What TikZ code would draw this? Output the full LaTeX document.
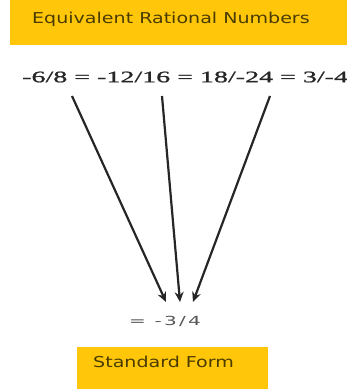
\documentclass[tikz,border=0pt]{standalone}
\usepackage{fontspec}
\newfontfamily\eqfont[FakeStretch=1.75, FakeBold=1.2]{Liberation Serif}
\newfontfamily\labfont[FakeStretch=1.27]{DejaVu Sans}
\newfontfamily\resfont[FakeStretch=1.6, LetterSpace=18]{DejaVu Sans}
\usetikzlibrary{arrows.meta}
\definecolor{gold}{HTML}{FFC60A}
\definecolor{labtext}{HTML}{4A3C00}
\definecolor{restext}{HTML}{555555}
\tikzset{
  banner/.style={fill=gold, draw=none, inner sep=0pt, anchor=north west},
  bannertext/.style={anchor=west, inner sep=0pt, text=labtext, font=\labfont\fontsize{15}{17}\selectfont},
  eqtext/.style={anchor=west, inner sep=0pt, text=black!85, font=\eqfont\fontsize{16}{18}\selectfont},
  restyle/.style={inner sep=0pt, text=restext, font=\resfont\fontsize{12.5}{14}\selectfont},
  conn/.style={line width=2.2pt, draw=black!85, -{Stealth[length=10pt,width=9pt]}}
}
\begin{document}
\begin{tikzpicture}[x=1pt,y=-1pt]
\useasboundingbox (0,0) rectangle (347,389);
\node[banner, minimum width=337pt, minimum height=45pt] (top) at (10,0) {};
\node[bannertext] (toptext) at (32,19) {Equivalent Rational Numbers};
\node[eqtext] (eq) at (22,77) {-6/8 = -12/16 = 18/-24 = 3/-4};
\coordinate (s1) at (72,96);
\coordinate (s2) at (162,96);
\coordinate (s3) at (270,96);
\coordinate (e1) at (166,302);
\coordinate (e2) at (180,302);
\coordinate (e3) at (193,302);
\draw[conn] (s1) -- (e1);
\draw[conn] (s2) -- (e2);
\draw[conn] (s3) -- (e3);
\node[restyle] (res) at (165,321) {= -3/4};
\node[banner, minimum width=191pt, minimum height=42pt] (bot) at (77,347) {};
\node[bannertext] (bottext) at (93,362) {Standard Form};
\end{tikzpicture}
\end{document}
